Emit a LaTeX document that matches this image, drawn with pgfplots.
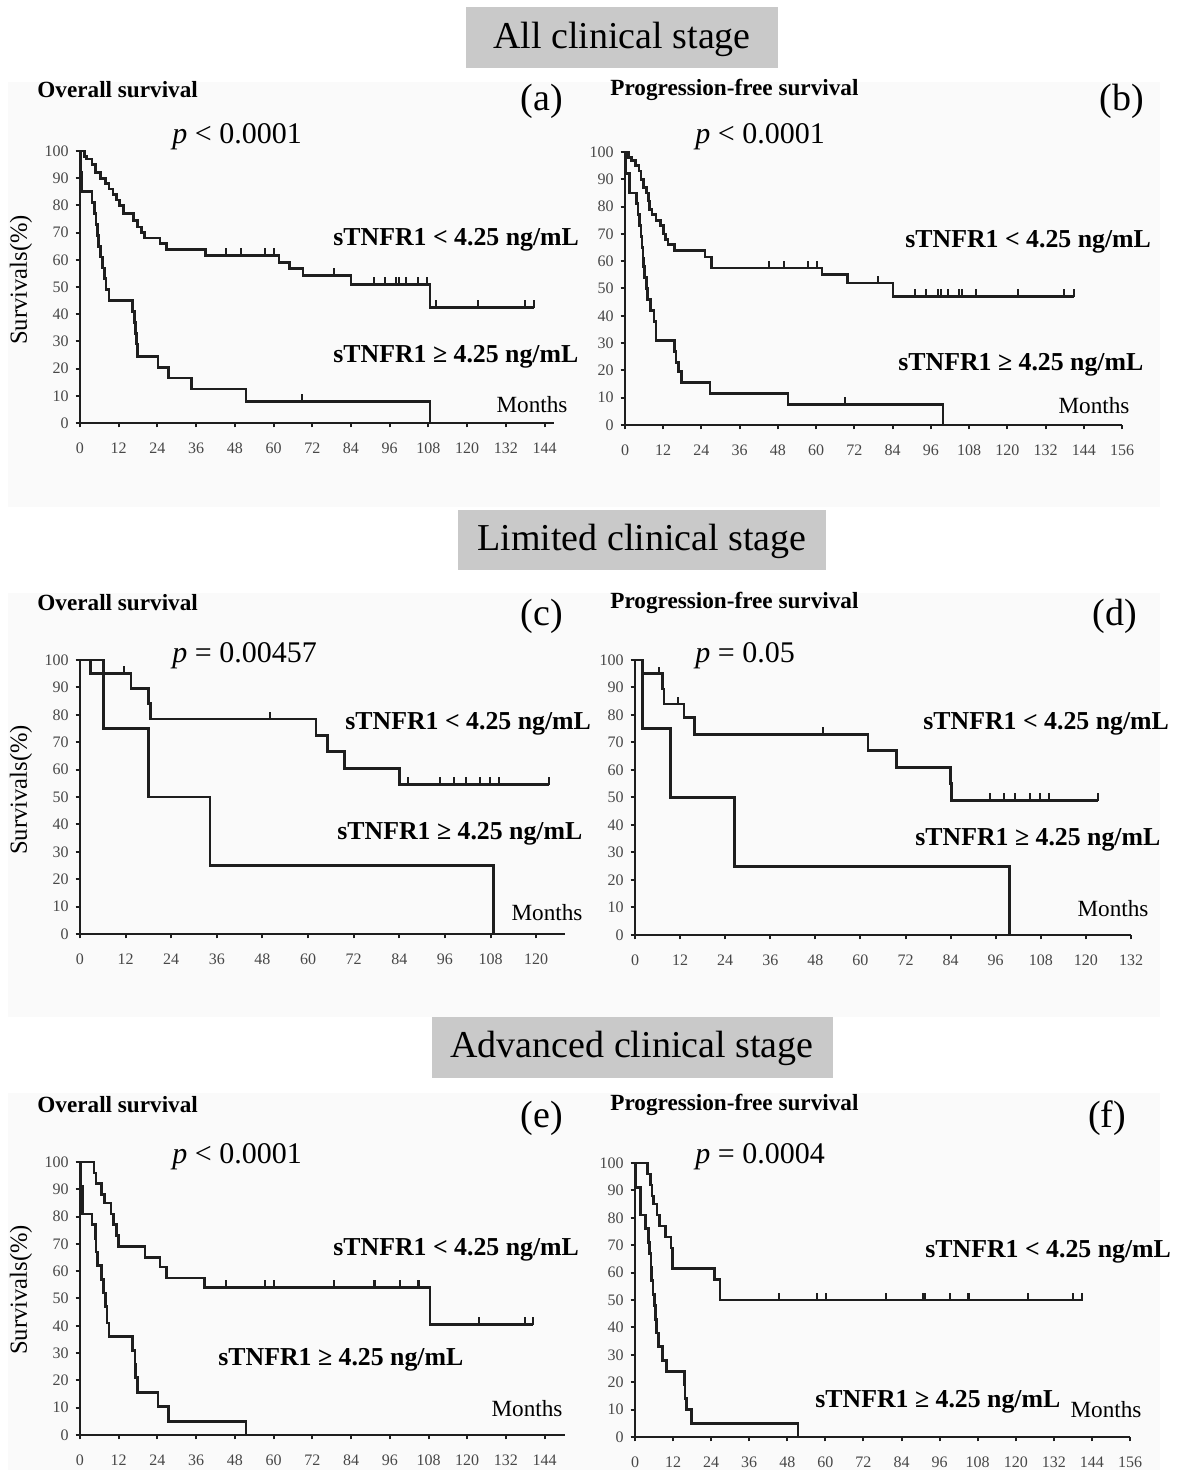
\documentclass[border=0pt]{standalone}
\usepackage{fontspec}
\setmainfont{Liberation Serif}
\usepackage{pgfplots}
\pgfplotsset{compat=1.18}
\pgfdeclareplotmark{ctick}{\pgfpathmoveto{\pgfpoint{0pt}{-0.3pt}}\pgfpathlineto{\pgfpoint{0pt}{3.6pt}}\pgfusepathqstroke}
\definecolor{ink}{HTML}{1E1E1E}
\pgfplotsset{
 km/.style={scale only axis, anchor=south west, axis lines=left,
   axis line style={-, line width=1.3pt, ink},
   xmin=0, ymin=0, ymax=100, ytick={0,10,...,100},
   tick align=outside, major tick length=2.2pt,
   tick style={line width=1pt, ink},
   tick label style={font=\fontsize{8}{8}\selectfont, text=black!72},
   xticklabel style={yshift=-4pt},
   /pgf/number format/assume math mode=true, clip=false},
 curve/.style={const plot mark left, line width=1.35pt, ink, mark=none},
 cens/.style={only marks, mark=ctick, mark options={line width=1pt, ink}},
}
\tikzset{L/.style={anchor=west, inner sep=0pt}}
\newcommand{\ttl}{\fontsize{19}{22}\selectfont}
\newcommand{\sub}{\fontsize{11.6}{13}\selectfont\bfseries}
\newcommand{\lab}{\fontsize{19}{22}\selectfont}
\newcommand{\pv}{\fontsize{15}{17}\selectfont}
\newcommand{\grp}{\fontsize{12.9}{15}\selectfont\bfseries}
\newcommand{\mo}{\fontsize{11.6}{13}\selectfont}
\newcommand{\sv}{\fontsize{12.3}{14}\selectfont}
\begin{document}
\begin{tikzpicture}[x=0.5pt,y=0.5pt]
\path[use as bounding box] (0,0) rectangle (1177,1470);
\coordinate (Pa) at (80,1047);
\coordinate (Pb) at (625,1045);
\coordinate (Pc) at (80,536);
\coordinate (Pd) at (635,535);
\coordinate (Pe) at (80,35);
\coordinate (Pf) at (635,33);
% background bands
\fill[black!2] (8,1470-507) rectangle (1160,1470-82);
\fill[black!2] (8,1470-1017) rectangle (1160,1470-593);
\fill[black!2] (8,0) rectangle (1160,1470-1093);
% titles
\fill[black!21] (466,1470-68) rectangle (778,1470-7);
\node[font=\ttl] at (622,1470-39) {All clinical stage};
\fill[black!21] (458,1470-570) rectangle (826,1470-510);
\node[font=\ttl] at (642,1470-541) {Limited clinical stage};
\fill[black!21] (432,1470-1078) rectangle (833,1470-1017);
\node[font=\ttl] at (632,1470-1048) {Advanced clinical stage};

% ---------------- (a)
\begin{axis}[km, at={(Pa)}, width=237.1pt, height=136pt, xmax=147, xtick={0,12,...,144}]
\addplot[curve] coordinates {(0,100)(1.5,98)(2.0,97)(3.7,95)(4.9,92)(6.4,90)(7.8,88)(9.0,86)(10.2,84)(11.4,82)(12.3,80)(13.5,77)(16.6,74.5)(17.8,72)(19.0,70)(20.1,68)(24.8,66)(26.9,63.8)(38.9,61.7)(61.7,58.9)(65.0,56.7)(69.1,54.3)(84.0,51.0)(108.5,42.5)(140.7,42.5)};
\addplot[cens] coordinates {(45.3,61.7)(50.0,61.7)(57.4,61.7)(60.2,61.7)(78.8,54.3)(91.0,51)(94.5,51)(98.0,51)(98.8,51)(101.2,51)(104.8,51)(107.7,51)(110.3,42.5)(123.4,42.5)(137.8,42.5)(140.7,42.5)};
\addplot[curve] coordinates {(0,100)(0.3,92)(0.6,85)(3.7,81)(4.5,77)(5.0,73)(5.5,69)(5.8,65)(6.3,61)(7.0,57)(7.5,53)(8.1,49)(9.0,45)(16.3,41)(17.0,37)(17.3,33)(17.5,29)(17.8,24.5)(24.2,20.5)(27.4,16.5)(34.5,12.5)(51.5,8)(108.5,0)};
\addplot[cens] coordinates {(68.7,8)};
\end{axis}
\node[font=\sub, L] at (37,1470-90) {Overall survival};
\node[font=\lab] at (542,1470-101) {(a)};
\node[font=\pv, L] at (172,1470-137) {\textit{p} < 0.0001};
\node[font=\grp, L] at (333,1470-240) {sTNFR1 < 4.25 ng/mL};
\node[font=\grp, L] at (333,1470-357) {sTNFR1 ≥ 4.25 ng/mL};
\node[font=\mo] at (532,1470-405) {Months};
\node[font=\sv, rotate=90] at (21,1470-280) {Survivals(\%)};

% ---------------- (b)
\begin{axis}[km, at={(Pb)}, width=248.5pt, height=136.5pt, xmax=156, xtick={0,12,...,156}]
\addplot[curve] coordinates {(0,100)(1.1,98)(2.0,97)(3.2,95)(4.4,93)(5.0,90)(5.9,87)(6.8,85)(7.3,82)(7.7,79)(8.5,77)(9.7,75)(11.2,73)(12.1,70)(12.7,68)(13.5,66)(15.6,64)(25.1,61.5)(27.1,57.5)(61.8,55)(69.8,52)(84.1,47)(140.9,47)};
\addplot[cens] coordinates {(45.3,57.5)(50.0,57.5)(57.5,57.5)(60.3,57.5)(79.3,52)(91.0,47)(94.4,47)(98.3,47)(99.2,47)(101.5,47)(104.9,47)(105.7,47)(110.1,47)(123.5,47)(137.9,47)(140.9,47)};
\addplot[curve] coordinates {(0,100)(0.2,92)(1.4,85)(3.6,81)(4.1,77)(4.6,73)(5.0,69)(5.3,65)(5.6,61)(5.9,58)(6.2,54)(6.8,50)(7.1,46)(7.9,42)(9.1,38)(9.7,31)(15.6,27)(16.0,23)(16.8,19.5)(17.8,15.5)(26.7,11.5)(51.2,7.5)(99.8,0)};
\addplot[cens] coordinates {(69.0,7.5)};
\end{axis}
\node[font=\sub, L] at (610,1470-90) {Progression-free survival};
\node[font=\lab] at (1122,1470-101) {(b)};
\node[font=\pv, L] at (695,1470-137) {\textit{p} < 0.0001};
\node[font=\grp, L] at (905,1470-242) {sTNFR1 < 4.25 ng/mL};
\node[font=\grp, L] at (898,1470-365) {sTNFR1 ≥ 4.25 ng/mL};
\node[font=\mo] at (1094,1470-406) {Months};

% ---------------- (c)
\begin{axis}[km, at={(Pc)}, width=242.5pt, height=137pt, xmax=127.6, xtick={0,12,...,120}]
\addplot[curve] coordinates {(0,100)(2.7,95)(13.4,89.5)(18.1,84)(18.6,78.5)(62.1,72.5)(65.1,66.5)(69.6,60.5)(84.0,54.5)(123.5,54.5)};
\addplot[cens] coordinates {(6.2,95)(11.6,95)(49.9,78.5)(86.2,54.5)(94.6,54.5)(98.4,54.5)(101.6,54.5)(105.3,54.5)(107.9,54.5)(110.2,54.5)(123.5,54.5)};
\addplot[curve] coordinates {(0,100)(6.2,75)(18.1,50)(34.2,25)(108.8,0)};
\end{axis}
\node[font=\sub, L] at (37,1470-603) {Overall survival};
\node[font=\lab] at (542,1470-616) {(c)};
\node[font=\pv, L] at (172,1470-656) {\textit{p} = 0.00457};
\node[font=\grp, L] at (345,1470-724) {sTNFR1 < 4.25 ng/mL};
\node[font=\grp, L] at (337,1470-834) {sTNFR1 ≥ 4.25 ng/mL};
\node[font=\mo] at (547,1470-913) {Months};
\node[font=\sv, rotate=90] at (21,1470-790) {Survivals(\%)};

% ---------------- (d)
\begin{axis}[km, at={(Pd)}, width=248pt, height=137.5pt, xmax=132, xtick={0,12,...,132}]
\addplot[curve] coordinates {(0,100)(2.0,95)(7.3,89.5)(7.7,84)(13.0,79)(15.9,73)(62.0,67)(69.5,61)(84.0,55)(84.3,49)(123.3,49)};
\addplot[cens] coordinates {(6.3,95)(11.5,84)(49.9,73)(94.4,49)(98.1,49)(101.2,49)(105.1,49)(107.7,49)(110.1,49)(123.3,49)};
\addplot[curve] coordinates {(0,100)(2.0,75)(9.5,50)(26.4,25)(99.6,0)};
\end{axis}
\node[font=\sub, L] at (610,1470-603) {Progression-free survival};
\node[font=\lab] at (1115,1470-616) {(d)};
\node[font=\pv, L] at (695,1470-656) {\textit{p} = 0.05};
\node[font=\grp, L] at (923,1470-724) {sTNFR1 < 4.25 ng/mL};
\node[font=\grp, L] at (915,1470-840) {sTNFR1 ≥ 4.25 ng/mL};
\node[font=\mo] at (1113,1470-909) {Months};

% ---------------- (e)
\begin{axis}[km, at={(Pe)}, width=242.5pt, height=136.5pt, xmax=150.3, xtick={0,12,...,144}]
\addplot[curve] coordinates {(0,100)(4.3,96)(5.0,92)(6.6,88)(7.6,85)(9.6,81)(10.4,77)(11.4,73)(11.9,69)(20.1,65)(24.8,61.5)(26.9,57.5)(38.6,54)(108.5,40.5)(140.5,40.5)};
\addplot[cens] coordinates {(45.3,54)(57.4,54)(60.2,54)(78.8,54)(91.0,54)(91.3,54)(99.2,54)(104.8,54)(105.0,54)(123.8,40.5)(137.8,40.5)(140.5,40.5)};
\addplot[curve] coordinates {(0,100)(0.3,91)(0.8,81)(3.7,77)(4.7,72)(5.0,67)(5.4,62)(6.7,57)(7.2,52)(7.8,47)(8.4,41)(9.0,36)(16.3,31)(17.0,26)(17.3,21)(17.8,15.5)(24.2,10.5)(27.4,5)(51.4,0)};
\end{axis}
\node[font=\sub, L] at (37,1470-1105) {Overall survival};
\node[font=\lab] at (542,1470-1118) {(e)};
\node[font=\pv, L] at (172,1470-1157) {\textit{p} < 0.0001};
\node[font=\grp, L] at (333,1470-1250) {sTNFR1 < 4.25 ng/mL};
\node[font=\grp, L] at (218,1470-1360) {sTNFR1 ≥ 4.25 ng/mL};
\node[font=\mo] at (527,1470-1409) {Months};
\node[font=\sv, rotate=90] at (21,1470-1290) {Survivals(\%)};

% ---------------- (f)
\begin{axis}[km, at={(Pf)}, width=247.5pt, height=137pt, xmax=156, xtick={0,12,...,156}]
\addplot[curve] coordinates {(0,100)(3.9,96)(4.8,92)(5.4,88)(5.9,85)(6.9,81)(7.7,77)(9.5,73)(11.3,69)(11.9,61.5)(25.0,57.5)(26.8,50)(140.9,50)};
\addplot[cens] coordinates {(45.4,50)(57.4,50)(60.3,50)(79.1,50)(90.9,50)(91.3,50)(99.3,50)(104.8,50)(105.2,50)(123.9,50)(137.9,50)(140.9,50)};
\addplot[curve] coordinates {(0,100)(0.3,91)(1.8,81)(3.2,76)(4.2,71)(4.6,67)(5.0,62)(5.2,57)(5.7,52)(6.2,48)(6.5,43)(6.8,38)(7.5,33)(8.7,28)(9.9,24)(15.5,19)(15.8,14)(16.3,10)(17.8,5)(51.4,0)};
\end{axis}
\node[font=\sub, L] at (610,1470-1105) {Progression-free survival};
\node[font=\lab] at (1107,1470-1118) {(f)};
\node[font=\pv, L] at (695,1470-1157) {\textit{p} = 0.0004};
\node[font=\grp, L] at (925,1470-1252) {sTNFR1 < 4.25 ng/mL};
\node[font=\grp, L] at (815,1470-1402) {sTNFR1 ≥ 4.25 ng/mL};
\node[font=\mo] at (1106,1470-1410) {Months};
\end{tikzpicture}
\end{document}
